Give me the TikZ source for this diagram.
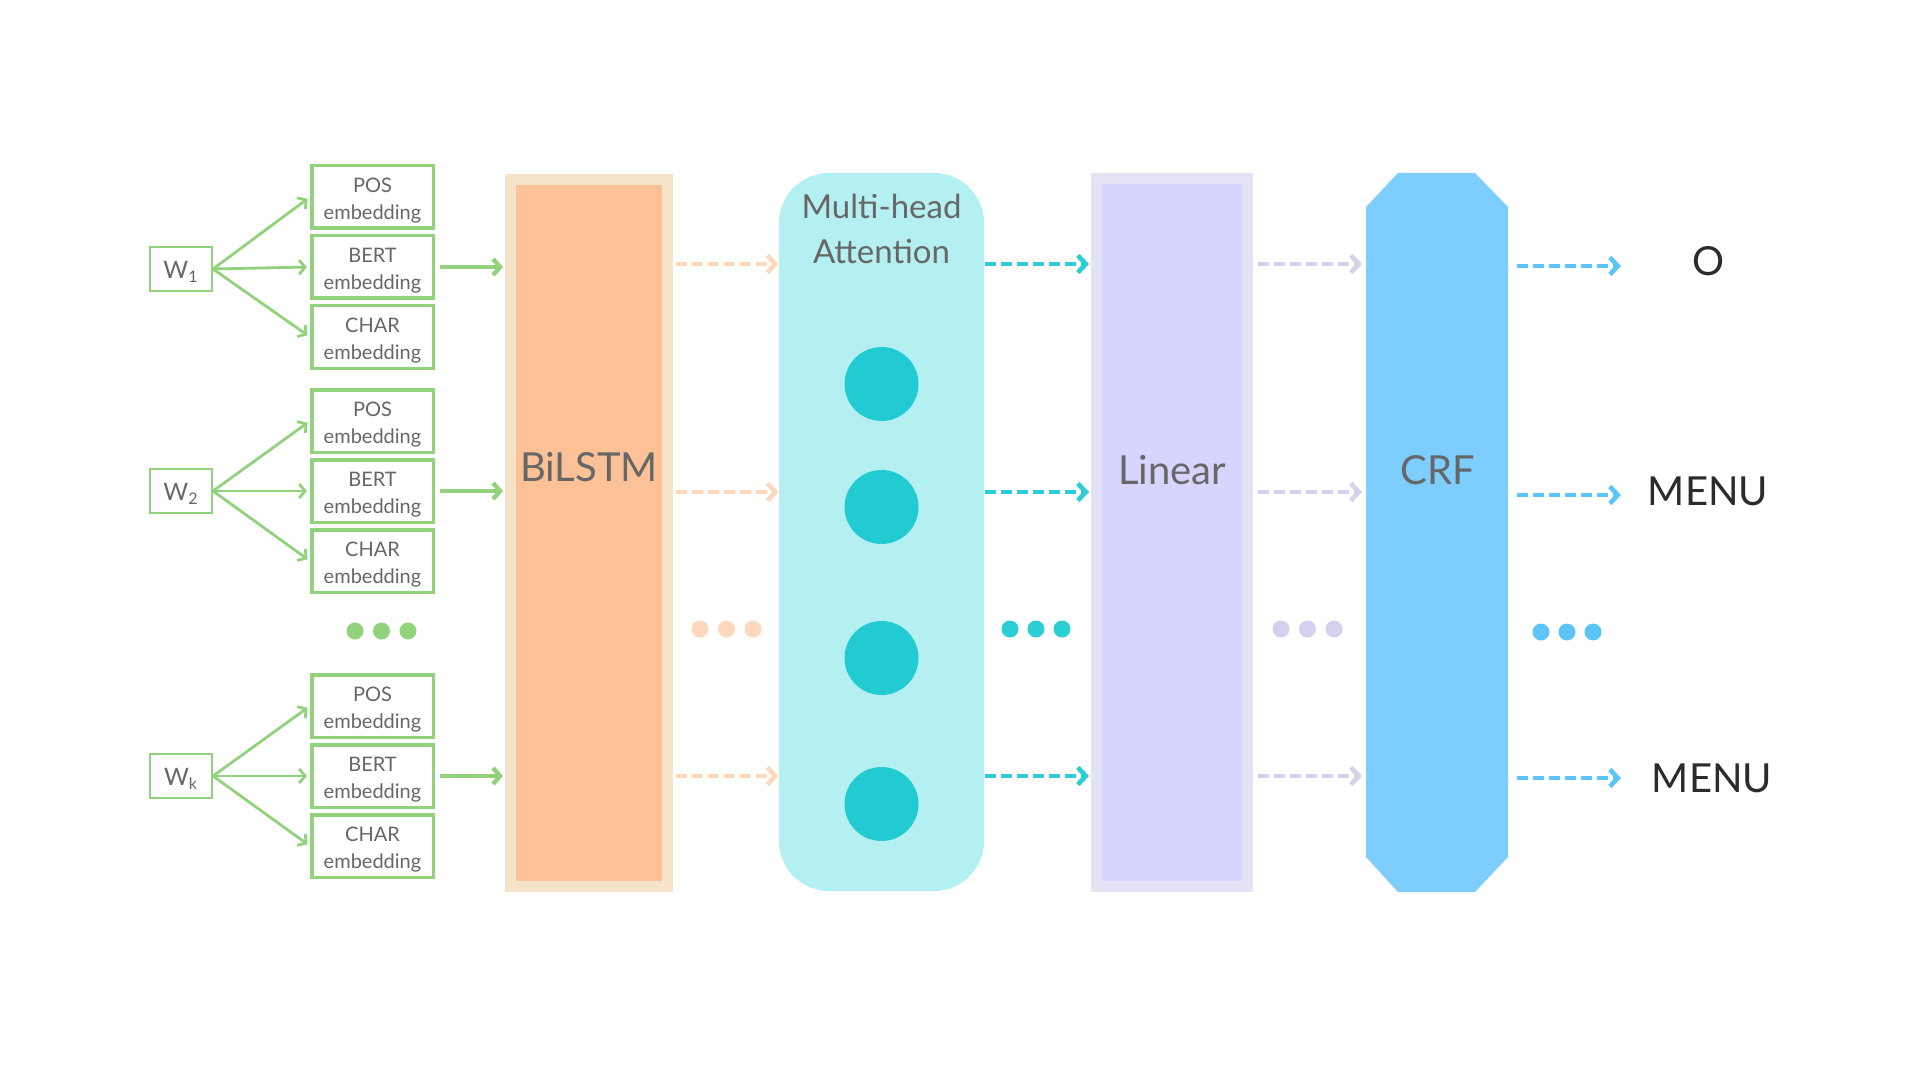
\documentclass[tikz,border=0pt]{standalone}
\usepackage{fontspec}
\setmainfont{Lato}
\usetikzlibrary{arrows.meta}
\definecolor{grn}{HTML}{92D27C}
\definecolor{txtgray}{HTML}{676767}
\definecolor{txtdark}{HTML}{2B2B2B}
\definecolor{lstmout}{HTML}{F7E3C9}
\definecolor{lstmin}{HTML}{FDC198}
\definecolor{peach}{HTML}{FFD7BC}
\definecolor{attfill}{HTML}{B4F0F1}
\definecolor{attcirc}{HTML}{22CAD2}
\definecolor{teal}{HTML}{2CCED6}
\definecolor{linout}{HTML}{E4E3F5}
\definecolor{linin}{HTML}{D7D5FD}
\definecolor{lav}{HTML}{D4D1EE}
\definecolor{crfc}{HTML}{7DCEFE}
\definecolor{blu}{HTML}{5BC5F9}
\begin{document}
\begin{tikzpicture}[x=0.5pt,y=-0.5pt,
  wbox/.style={draw=grn, line width=1pt, minimum width=31pt, minimum height=22pt, inner sep=0pt, text height=11pt, text depth=1.5pt, text=txtgray, font=\fontsize{12}{14}\selectfont},
  embbox/.style={draw=grn, line width=1.75pt, minimum width=60.75pt, minimum height=31.25pt, inner sep=0pt, align=center, text height=24pt, text=txtgray, font=\fontsize{10}{13.5}\selectfont},
  fanarrow/.style={draw=grn, line width=1.4pt, -{Straight Barb[length=3pt,width=7pt]}, shorten >=1.5pt},
  feedarrow/.style={draw=grn, line width=2.2pt, -{Straight Barb[length=3.5pt,width=8pt]}, shorten <=2.5pt, shorten >=1pt},
  dasharrow/.style={line width=2.3pt, dash pattern=on 5.5pt off 2.5pt, -{Straight Barb[length=4pt,width=8.5pt]}},
  dotn/.style={circle, minimum size=8.5pt, inner sep=0pt},
  bigtext/.style={text=txtgray, font=\fontsize{20}{24}\selectfont, inner sep=0pt},
  outtext/.style={text=txtdark, font=\fontsize{20}{24}\selectfont, inner sep=0pt}
]
\path[use as bounding box, fill=white] (0,0) rectangle (1920,1080);

% rows
\coordinate (r1) at (0,264);
\coordinate (r2) at (0,492);
\coordinate (r3) at (0,776);
\coordinate (outx) at (1621,0);

% word boxes
\node[wbox] (w1) at (181,269) {W\textsubscript{1}};
\node[wbox] (w2) at (181,491) {W\textsubscript{2}};
\node[wbox] (wk) at (181,776) {W\textsubscript{k}};

% embedding boxes
\node[embbox] (p1) at (372.5,197) {POS\\embedding};
\node[embbox] (b1) at (372.5,267) {BERT\\embedding};
\node[embbox] (c1) at (372.5,337) {CHAR\\embedding};
\node[embbox] (p2) at (372.5,421) {POS\\embedding};
\node[embbox] (b2) at (372.5,491) {BERT\\embedding};
\node[embbox] (c2) at (372.5,561) {CHAR\\embedding};
\node[embbox] (p3) at (372.5,706) {POS\\embedding};
\node[embbox] (b3) at (372.5,776) {BERT\\embedding};
\node[embbox] (c3) at (372.5,846) {CHAR\\embedding};

\foreach \w/\g in {w1/1,w2/2,wk/3}{
  \draw[fanarrow] (\w.east) -- (p\g.west);
  \draw[fanarrow] (\w.east) -- (b\g.west);
  \draw[fanarrow] (\w.east) -- (c\g.west);
}

% green dots
\node[dotn, fill=grn] (gd1) at (355,631) {};
\node[dotn, fill=grn] (gd2) at (381.5,631) {};
\node[dotn, fill=grn] (gd3) at (408,631) {};

% BiLSTM
\node[draw=lstmout, fill=lstmin, line width=5.5pt, minimum width=78.5pt, minimum height=353.5pt, inner sep=0pt] (bilstm) at (589,533) {};
\node[bigtext] (bilstmtxt) at (589,467) {BiLSTM};

\draw[feedarrow] (b1.east) -- (b1.east -| bilstm.west);
\draw[feedarrow] (b2.east) -- (b2.east -| bilstm.west);
\draw[feedarrow] (b3.east) -- (b3.east -| bilstm.west);

% Attention
\node[fill=attfill, rounded corners=25pt, minimum width=102.5pt, minimum height=359pt, inner sep=0pt] (attn) at (881.5,532) {};
\node[text=txtgray, font=\fontsize{16.5}{22.5}\selectfont, align=center, inner sep=0pt] (atttxt) at (881.5,229) {Multi-head\\Attention};
\node[circle, fill=attcirc, minimum size=37pt, inner sep=0pt] (ac1) at (881.5,384) {};
\node[circle, fill=attcirc, minimum size=37pt, inner sep=0pt] (ac2) at (881.5,507) {};
\node[circle, fill=attcirc, minimum size=37pt, inner sep=0pt] (ac3) at (881.5,658) {};
\node[circle, fill=attcirc, minimum size=37pt, inner sep=0pt] (ac4) at (881.5,804) {};

% Linear
\node[draw=linout, fill=linin, line width=5.5pt, minimum width=75.5pt, minimum height=354pt, inner sep=0pt] (linear) at (1172,532.5) {};
\node[bigtext] (lintxt) at (1172,470) {Linear};

% CRF
\fill[crfc] (1366,207) -- (1398,173) -- (1475,173) -- (1508,207) -- (1508,857) -- (1475,892) -- (1398,892) -- (1366,857) -- cycle;
\node[minimum width=71pt, minimum height=359.5pt, inner sep=0pt, outer sep=0pt] (crf) at (1437,532.5) {};
\node[bigtext] (crftxt) at (1438,470) {CRF};

% dashed arrows
\foreach \r in {r1,r2,r3}{
  \draw[dasharrow, draw=peach, shorten <=1.5pt] (bilstm.east |- \r) -- (attn.west |- \r);
  \draw[dasharrow, draw=teal, shorten <=0.5pt, shorten >=1pt] (attn.east |- \r) -- (linear.west |- \r);
  \draw[dasharrow, draw=lav, shorten <=2.5pt, shorten >=2pt] (linear.east |- \r) -- (crf.west |- \r);
}
\draw[dasharrow, draw=blu, shorten <=4.5pt] ([yshift=-1pt]crf.east |- r1) -- ([yshift=-1pt]outx |- r1);
\draw[dasharrow, draw=blu, shorten <=4.5pt] ([yshift=-1.5pt]crf.east |- r2) -- ([yshift=-1.5pt]outx |- r2);
\draw[dasharrow, draw=blu, shorten <=4.5pt] ([yshift=-1pt]crf.east |- r3) -- ([yshift=-1pt]outx |- r3);

% dots between columns
\node[dotn, fill=peach] (pd1) at (700,629) {};
\node[dotn, fill=peach] (pd2) at (726.5,629) {};
\node[dotn, fill=peach] (pd3) at (753,629) {};
\node[dotn, fill=teal] (td1) at (1010,629) {};
\node[dotn, fill=teal] (td2) at (1036,629) {};
\node[dotn, fill=teal] (td3) at (1062,629) {};
\node[dotn, fill=lav] (ld1) at (1281,629) {};
\node[dotn, fill=lav] (ld2) at (1307.5,629) {};
\node[dotn, fill=lav] (ld3) at (1334,629) {};
\node[dotn, fill=blu] (bd1) at (1541,632) {};
\node[dotn, fill=blu] (bd2) at (1567,632) {};
\node[dotn, fill=blu] (bd3) at (1593,632) {};

% outputs
\node[outtext] (o1) at (1708,261) {O};
\node[outtext] (o2) at (1708,491) {MENU};
\node[outtext] (o3) at (1712,778) {MENU};
\end{tikzpicture}
\end{document}
